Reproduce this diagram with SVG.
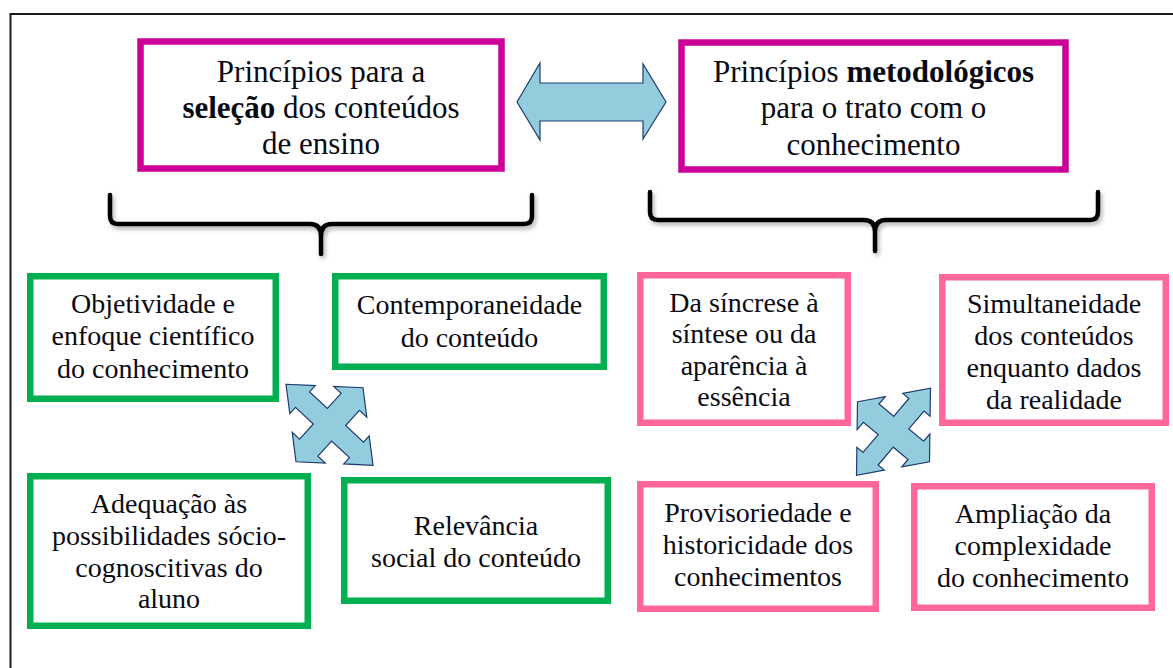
<svg xmlns="http://www.w3.org/2000/svg" width="1173" height="668" viewBox="0 0 1173 668">
<defs>
<style>
.t{font-family:'Liberation Serif','DejaVu Serif',serif;fill:#0a0a14;text-anchor:middle}
.big{font-size:31px}
.sm{font-size:28px}
.mag{fill:#fff;stroke:#CC0099;stroke-width:6.5}
.grn{fill:#fff;stroke:#00B050;stroke-width:6.5}
.pnk{fill:#fff;stroke:#FF6699;stroke-width:6.5}
.arr{fill:#93CDDD;stroke:#1F3A6E;stroke-width:1.2;stroke-linejoin:miter}
.brace{fill:none;stroke:#000;stroke-width:4.5;stroke-linecap:round;stroke-linejoin:round}
</style>
<filter id="sh" x="-5%" y="-20%" width="110%" height="160%">
<feDropShadow dx="2" dy="3" stdDeviation="2" flood-color="#000" flood-opacity="0.3"/>
</filter>
</defs>
<rect width="1173" height="668" fill="#fff"/>
<path d="M10.5,668 V14 H1173" fill="none" stroke="#1a1a1a" stroke-width="2"/>

<g id="connectors">
<polygon class="arr" points="517,102 540,63 540,83 643,83 643,64 666,102 643,139 643,121 540,121 540,140"/>
<path class="brace" filter="url(#sh)" d="M110,195 L110,216 Q110,224 118,224 L310,224 Q321,224 321,236 L321,254 M321,236 Q321,224 332,224 L524,224 Q532,224 532,216 L532,195"/>
<path class="brace" filter="url(#sh)" d="M650,192 L650,212 Q650,220 658,220 L864,220 Q875,220 875,232 L875,251 M875,232 Q875,220 886,220 L1090,220 Q1098,220 1098,212 L1098,192"/>
<polygon class="arr" points="286,384.25 315.26,385.58 309.57,391.87 327.4,408.48 341.14,393.31 333.74,386.42 363,387.75 366.8,417.2 359.41,410.32 345.67,425.49 363.51,442.09 369.2,435.8 373,465.25 343.74,463.92 349.44,457.63 331.6,441.03 317.87,456.2 325.26,463.08 296,461.75 292.2,432.3 299.6,439.19 313.33,424.02 295.5,407.41 289.8,413.7"/>
<polygon class="arr" points="857.5,401.75 885.24,396.62 878.95,404.02 893.71,416.32 908.88,398.48 902.76,393.38 930.5,388.25 930.12,416.18 924,411.08 908.83,428.92 923.59,441.22 929.88,433.82 929.5,461.75 901.76,466.88 908.05,459.48 893.29,447.19 878.12,465.02 884.24,470.12 856.5,475.25 856.88,447.32 863,452.42 878.17,434.59 863.41,422.29 857.12,429.68"/>
</g>

<g id="sel">
<rect class="mag" x="140.5" y="41.5" width="361" height="127"/>
<text class="t big" x="321" y="82">Princípios para a</text>
<text class="t big" x="321" y="118"><tspan font-weight="bold">seleção</tspan> dos conteúdos</text>
<text class="t big" x="321" y="154">de ensino</text>
</g>

<g id="met">
<rect class="mag" x="681.5" y="42.5" width="384" height="127"/>
<text class="t big" x="873.5" y="82">Princípios <tspan font-weight="bold">metodológicos</tspan></text>
<text class="t big" x="873.5" y="118">para o trato com o</text>
<text class="t big" x="873.5" y="155">conhecimento</text>
</g>

<g id="objetividade">
<rect class="grn" x="30.25" y="276.25" width="245.5" height="122.5"/>
<text class="t sm" x="153" y="313">Objetividade e</text>
<text class="t sm" x="153" y="345">enfoque científico</text>
<text class="t sm" x="153" y="378">do conhecimento</text>
</g>

<g id="contemporaneidade">
<rect class="grn" x="335.25" y="276.25" width="268.5" height="90.5"/>
<text class="t sm" x="469.5" y="314">Contemporaneidade</text>
<text class="t sm" x="469.5" y="347">do conteúdo</text>
</g>

<g id="adequacao">
<rect class="grn" x="30.25" y="476.25" width="277.5" height="149.5"/>
<text class="t sm" x="169" y="513">Adequação às</text>
<text class="t sm" x="169" y="545">possibilidades sócio-</text>
<text class="t sm" x="169" y="577">cognoscitivas do</text>
<text class="t sm" x="169" y="608">aluno</text>
</g>

<g id="relevancia">
<rect class="grn" x="344.25" y="480.25" width="263.5" height="120.5"/>
<text class="t sm" x="476" y="535">Relevância</text>
<text class="t sm" x="476" y="567">social do conteúdo</text>
</g>

<g id="sincrese">
<rect class="pnk" x="640.25" y="275.25" width="207.5" height="147.5"/>
<text class="t sm" x="744" y="312">Da síncrese à</text>
<text class="t sm" x="744" y="343">síntese ou da</text>
<text class="t sm" x="744" y="375">aparência à</text>
<text class="t sm" x="744" y="406">essência</text>
</g>

<g id="simultaneidade">
<rect class="pnk" x="942.25" y="277.25" width="223.5" height="145.5"/>
<text class="t sm" x="1054" y="313">Simultaneidade</text>
<text class="t sm" x="1054" y="345">dos conteúdos</text>
<text class="t sm" x="1054" y="377">enquanto dados</text>
<text class="t sm" x="1054" y="409">da realidade</text>
</g>

<g id="provisoriedade">
<rect class="pnk" x="640.25" y="484.25" width="235.5" height="124.5"/>
<text class="t sm" x="758" y="522">Provisoriedade e</text>
<text class="t sm" x="758" y="554">historicidade dos</text>
<text class="t sm" x="758" y="586">conhecimentos</text>
</g>

<g id="ampliacao">
<rect class="pnk" x="914.25" y="486.25" width="237.5" height="121.5"/>
<text class="t sm" x="1033" y="523">Ampliação da</text>
<text class="t sm" x="1033" y="555">complexidade</text>
<text class="t sm" x="1033" y="587">do conhecimento</text>
</g>
</svg>
